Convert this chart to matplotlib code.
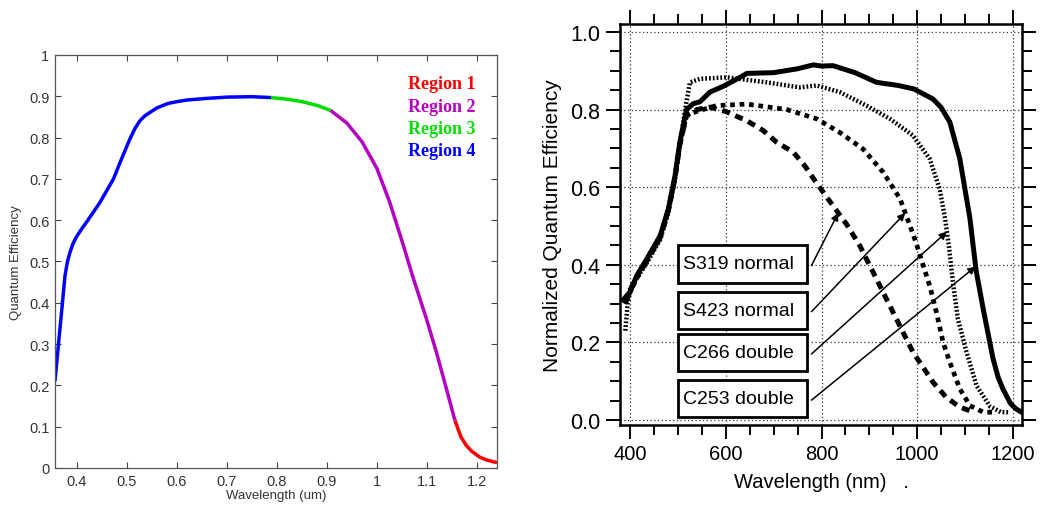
import numpy as np
import matplotlib
matplotlib.use('Agg')
import matplotlib.pyplot as plt
from matplotlib.patches import Rectangle
from matplotlib.ticker import MultipleLocator

# Left panel: modelled QE curve (wavelength in um)

wl_model = [0.356, 0.363, 0.369, 0.376, 0.381, 0.386, 0.392, 0.399, 0.41, 0.419, 0.446,
            0.473, 0.489, 0.506, 0.516, 0.526, 0.536, 0.546, 0.56, 0.583, 0.60, 0.62,
            0.64, 0.66, 0.70, 0.75, 0.788, 0.82, 0.85, 0.88, 0.907, 0.94, 0.97, 1.00,
            1.025, 1.05, 1.073, 1.099, 1.119, 1.139, 1.156, 1.168, 1.179, 1.19, 1.206,
            1.22, 1.24]
qe_model = [0.21, 0.30, 0.375, 0.465, 0.50, 0.522, 0.543, 0.56, 0.58, 0.595, 0.643,
            0.70, 0.748, 0.797, 0.822, 0.841, 0.853, 0.861, 0.872, 0.883, 0.887, 0.891,
            0.893, 0.895, 0.898, 0.899, 0.897, 0.893, 0.887, 0.878, 0.866, 0.835, 0.79,
            0.725, 0.645, 0.55, 0.458, 0.361, 0.28, 0.191, 0.115, 0.075, 0.054, 0.04,
            0.026, 0.019, 0.013]

region_names = ['Region 1', 'Region 2', 'Region 3', 'Region 4']
region_colors = ['#ff0000', '#b400c0', '#00dd00', '#0000ff']
region_limits = [(1.156, 1.24), (0.907, 1.156), (0.788, 0.907), (0.356, 0.788)]

# Right panel: measured normalized QE (wavelength in nm)

s319_wl = [390, 400, 414, 435, 463, 480, 494, 504, 518, 540, 567, 600, 644, 678,
           706, 741, 765, 786, 811, 852, 880, 915, 953, 991, 1033, 1061, 1089, 1110]
s319_qe = [0.30, 0.335, 0.37, 0.41, 0.47, 0.54, 0.625, 0.71, 0.785, 0.80, 0.806, 0.795,
           0.771, 0.746, 0.716, 0.69, 0.655, 0.617, 0.574, 0.505, 0.449, 0.363, 0.269,
           0.175, 0.097, 0.058, 0.033, 0.024]

s423_wl = [388, 400, 414, 435, 463, 480, 494, 504, 518, 539, 580, 644, 727, 790, 838,
           887, 929, 964, 985, 998, 1012, 1026, 1040, 1054, 1068, 1089, 1110, 1138, 1160]
s423_qe = [0.30, 0.33, 0.365, 0.41, 0.47, 0.54, 0.625, 0.71, 0.785, 0.795, 0.81, 0.814,
           0.80, 0.776, 0.741, 0.698, 0.638, 0.57, 0.50, 0.455, 0.40, 0.346, 0.278, 0.20,
           0.149, 0.08, 0.037, 0.02, 0.02]

c266_wl = [390, 395, 400, 414, 435, 463, 480, 494, 504, 515, 525, 546, 602, 685, 755,
           790, 838, 894, 943, 991, 1026, 1047, 1058, 1066, 1075, 1085, 1103, 1124, 1152,
           1175, 1190]
c266_qe = [0.23, 0.30, 0.33, 0.365, 0.405, 0.465, 0.535, 0.62, 0.71, 0.80, 0.87, 0.879,
           0.883, 0.87, 0.857, 0.862, 0.845, 0.81, 0.776, 0.733, 0.673, 0.595, 0.52, 0.45,
           0.35, 0.26, 0.175, 0.088, 0.035, 0.02, 0.02]

c253_wl = [386, 400, 414, 435, 463, 480, 494, 504, 518, 532, 546, 567, 595, 630, 644,
           700, 750, 783, 800, 824, 870, 915, 960, 993, 1033, 1050, 1068, 1089, 1099,
           1110, 1123, 1138, 1158, 1169, 1179, 1195, 1207, 1218]
c253_qe = [0.31, 0.33, 0.372, 0.415, 0.475, 0.544, 0.63, 0.716, 0.80, 0.815, 0.82, 0.845,
           0.86, 0.883, 0.893, 0.895, 0.905, 0.915, 0.912, 0.913, 0.895, 0.870, 0.862,
           0.853, 0.827, 0.805, 0.768, 0.673, 0.60, 0.52, 0.385, 0.285, 0.16, 0.11, 0.08,
           0.042, 0.028, 0.02]

labels = ['S319 normal', 'S423 normal', 'C266 double', 'C253 double']
arrow_tip_wl = [835, 975, 1062, 1122]

plt.rcParams['font.family'] = ['Liberation Sans', 'DejaVu Sans']

fig = plt.figure(figsize=(10.41, 5.10), dpi=100)

########### Left panel ###########

ax1 = fig.add_axes([0.0528, 0.0804, 0.4246, 0.8098])
wl_arr = np.array(wl_model)
qe_arr = np.array(qe_model)
for (lo, hi), col in zip(region_limits, region_colors):
    m = (wl_arr >= lo - 1e-9) & (wl_arr <= hi + 1e-9)
    ax1.plot(wl_arr[m], qe_arr[m], color=col, lw=2.5, solid_capstyle='butt',
             solid_joinstyle='round')

ax1.set_xlim(0.356, 1.24)
ax1.set_ylim(0, 1)
ax1.set_xticks([0.4, 0.5, 0.6, 0.7, 0.8, 0.9, 1.0, 1.1, 1.2])
ax1.set_xticklabels(['0.4', '0.5', '0.6', '0.7', '0.8', '0.9', '1', '1.1', '1.2'])
ax1.set_yticks(np.arange(0, 1.01, 0.1))
ax1.set_yticklabels(['0', '0.1', '0.2', '0.3', '0.4', '0.5', '0.6', '0.7', '0.8', '0.9', '1'])
ax1.tick_params(direction='in', top=True, right=True, length=4, width=0.8,
                labelsize=10.5, colors='#444444', labelcolor='#333333', pad=4)
for sp in ax1.spines.values():
    sp.set_color('#555555')
    sp.set_linewidth(0.9)
ax1.set_xlabel('Wavelength (um)', fontsize=9.5, color='#333333', labelpad=1)
ax1.set_ylabel('Quantum Efficiency', fontsize=9.5, color='#333333', labelpad=5)

for i, (name, col) in enumerate(zip(region_names, region_colors)):
    ax1.text(1.062, 0.93 - i * 0.0535, name, color=col, fontsize=13,
             fontweight='bold', family='Liberation Serif', va='center', ha='left')

########### Right panel ###########

ax2 = fig.add_axes([0.5956, 0.1647, 0.3862, 0.786])
ax2.plot(c253_wl, c253_qe, color='black', lw=3.6, solid_joinstyle='round')
ax2.plot(c266_wl, c266_qe, color='black', lw=3.2, linestyle=(0, (0.4, 0.45)))
ax2.plot(s423_wl, s423_qe, color='black', lw=3.4, linestyle=(0, (1.0, 1.0)))
ax2.plot(s319_wl, s319_qe, color='black', lw=3.6, linestyle=(0, (1.6, 1.2)))

ax2.set_xlim(379, 1219)
ax2.set_ylim(-0.013, 1.02)
ax2.xaxis.set_major_locator(MultipleLocator(200))
ax2.xaxis.set_minor_locator(MultipleLocator(50))
ax2.yaxis.set_major_locator(MultipleLocator(0.2))
ax2.yaxis.set_minor_locator(MultipleLocator(0.05))
ax2.yaxis.set_major_formatter(matplotlib.ticker.FormatStrFormatter('%.1f'))
ax2.tick_params(which='both', direction='out', top=True, right=True, width=1.4)
ax2.tick_params(which='major', length=10, pad=4)
ax2.tick_params(axis='x', which='major', labelsize=14.5)
ax2.tick_params(axis='y', which='major', labelsize=15.5)
ax2.tick_params(which='minor', length=7)
ax2.grid(which='major', linestyle=(0, (1, 2)), color='#333333', lw=0.9)
for sp in ax2.spines.values():
    sp.set_linewidth(1.8)
ax2.set_xlabel('Wavelength (nm)   .', fontsize=14.5, labelpad=6)
ax2.set_ylabel('Normalized Quantum Efficiency', fontsize=15, labelpad=6)

# Labelled boxes with arrows to each curve

box_y = [0.402, 0.283, 0.174, 0.055]
curves = [(s319_wl, s319_qe), (s423_wl, s423_qe), (c266_wl, c266_qe), (c253_wl, c253_qe)]
for lab, yc, tip, (wl, qe) in zip(labels, box_y, arrow_tip_wl, curves):
    ax2.add_patch(Rectangle((500, yc - 0.048), 269.5, 0.096, fc='white',
                            ec='black', lw=2, zorder=5))
    ax2.text(511, yc, lab, fontsize=14, va='center', ha='left', zorder=6)
    tip_y = np.interp(tip, wl, qe)
    ax2.annotate('', xy=(tip, tip_y), xytext=(779, yc - 0.004),
                 arrowprops=dict(arrowstyle='-|>', lw=1.1, color='black',
                                 mutation_scale=11, shrinkA=0, shrinkB=0),
                 zorder=6)

fig.savefig('out.png', dpi=100)
